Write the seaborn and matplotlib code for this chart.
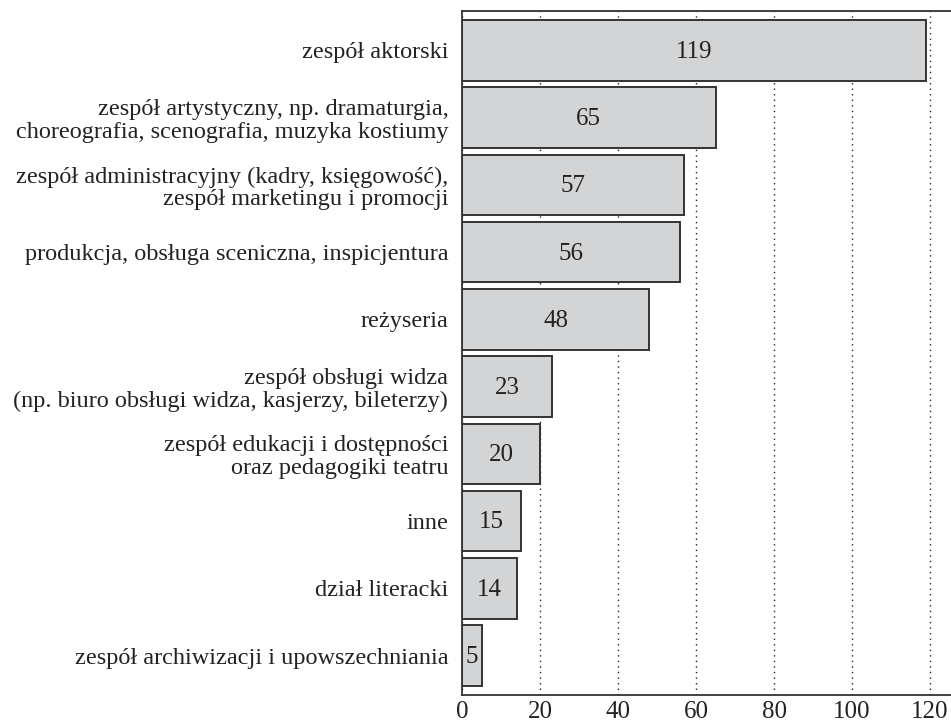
import numpy as np
import pandas as pd
import matplotlib
matplotlib.use("Agg")
import matplotlib.pyplot as plt
import seaborn as sns

# dane z wykresu
categories = [
    "zespół aktorski",
    "zespół artystyczny, np. dramaturgia,\nchoreografia, scenografia, muzyka kostiumy",
    "zespół administracyjny (kadry, księgowość),\nzespół marketingu i promocji",
    "produkcja, obsługa sceniczna, inspicjentura",
    "reżyseria",
    "zespół obsługi widza\n(np. biuro obsługi widza, kasjerzy, bileterzy)",
    "zespół edukacji i dostępności\noraz pedagogiki teatru",
    "inne",
    "dział literacki",
    "zespół archiwizacji i upowszechniania",
]
values = [119, 65, 57, 56, 48, 23, 20, 15, 14, 5]
x_ticks = [0, 20, 40, 60, 80, 100, 120]

sns.set_style("white")
plt.rcParams['font.family'] = ['Liberation Serif', 'DejaVu Serif']

df = pd.DataFrame({"kategoria": categories, "liczba": values})

fig = plt.figure(figsize=(9.51, 7.22), dpi=100)
ax = fig.add_axes([0.486, 0.037, 0.514, 0.948])
ax.set_axisbelow(True)
ax.xaxis.grid(True, linestyle=(0, (1, 3)), color="#222222", linewidth=1.0)

sns.barplot(data=df, x="liczba", y="kategoria", orient="h", color="#d3d4d6",
            edgecolor="#333333", linewidth=1.4, width=0.9, saturation=1, ax=ax)

for i, v in enumerate(values):
    ax.text(v / 2, i + 0.02, str(v), ha="center", va="center", fontsize=18, color="#222222")

ax.set_xlim(0, 125.4)
ax.set_ylim(9.59, -0.59)
ax.set_xticks(x_ticks)
ax.tick_params(axis="x", length=0, labelsize=18, colors="#222222", pad=4)
ax.tick_params(axis="y", length=0, labelsize=17.5, colors="#222222", pad=10)
ax.set_xlabel("")
ax.set_ylabel("")
for lab in ax.get_yticklabels():
    lab.set_horizontalalignment("right")
    lab.set_multialignment("right")
    lab.set_linespacing(1.1)
for s in ["left", "bottom", "top"]:
    ax.spines[s].set_color("#333333")
    ax.spines[s].set_linewidth(1.3)
ax.spines["right"].set_visible(False)

fig.savefig("out.png", dpi=100)
